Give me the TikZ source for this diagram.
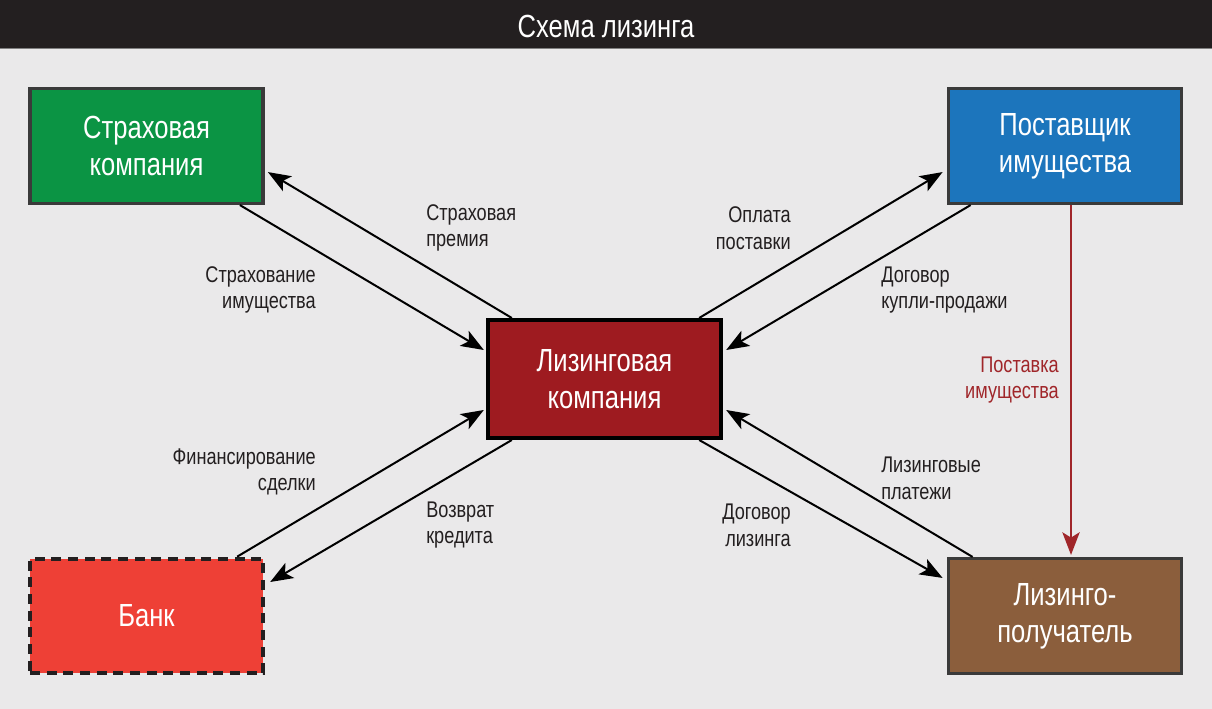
\documentclass[tikz,border=0pt]{standalone}
\usepackage{fontspec}
\setmainfont[FakeStretch=0.8]{Liberation Sans}
\usetikzlibrary{arrows.meta}
\definecolor{pagebg}{HTML}{EAE9EA}
\definecolor{titlebg}{HTML}{231F20}
\definecolor{boxline}{HTML}{3A3A3A}
\definecolor{insgreen}{HTML}{0B9444}
\definecolor{supblue}{HTML}{1C75BC}
\definecolor{lcred}{HTML}{9E1B20}
\definecolor{bankred}{HTML}{EE4036}
\definecolor{lesbrown}{HTML}{8B5E3C}
\definecolor{supplyred}{HTML}{A0262A}

\begin{document}
\begin{tikzpicture}[x=0.75pt,y=-0.75pt]
                        \tikzstyle{box}=[draw=boxline, line width=2.6pt, minimum width=175pt, minimum height=86pt,
                            text=white, align=center, inner sep=0pt, font=\fontsize{24}{28}\selectfont]
                        \tikzstyle{lbl}=[text=titlebg, inner sep=0pt, font=\fontsize{17}{20}\selectfont]
                        \tikzstyle{arr}=[draw=black, line width=1.5pt, -{Stealth[length=17pt, width=13pt, inset=4pt]}]
                        \useasboundingbox (0,0) rectangle (1212,709);
                        \fill[pagebg] (0,0) rectangle (1212,709);
                        \fill[titlebg] (0,0) rectangle (1212,48);
                        \draw[gray, line width=1.2pt] (0,48.5) -- (1212,48.5);
                        \node[text=white, font=\fontsize{24}{28}\selectfont] (title) at (606,26) {Схема лизинга};
                        \node[box, fill=insgreen] (ins) at (146.5,146) {Страховая\\компания};
                        \node[box, fill=supblue] (sup) at (1065,146) {Поставщик\\имущества};
                        \node[box, fill=lcred, draw=black, line width=3pt, minimum height=88.5pt] (lc) at (604.5,379) {Лизинговая\\компания};
                        \node[box, fill=bankred, draw=titlebg, line width=3pt, dash pattern=on 7.5pt off 5pt] (bank) at (146.5,616) {Банк};
                        \node[box, fill=lesbrown] (les) at (1065,616) {Лизинго-\\получатель};
                        \draw[arr] ([shift={(-25,0)}]ins.south east) -- ([shift={(-2,-29)}]lc.west);
                        \draw[arr] ([shift={(26,0)}]lc.north west) -- ([shift={(3,-33)}]ins.south east);
                        \draw[arr] ([shift={(-24,0)}]lc.north east) -- ([shift={(-4,-33)}]sup.south west);
                        \draw[arr] ([shift={(24,0)}]sup.south west) -- ([shift={(3,-29)}]lc.east);
                        \draw[arr, draw=supplyred, fill=supplyred, line width=1.4pt] ([shift={(6,0)}]sup.south) -- ([shift={(6,-2)}]les.north);
                        \draw[arr] ([shift={(26,0)}]les.north west) -- ([shift={(3,31)}]lc.east);
                        \draw[arr] ([shift={(-24,0)}]lc.south east) -- ([shift={(-4,21)}]les.north west);
                        \draw[arr] ([shift={(-28,0)}]bank.north east) -- ([shift={(-2,31)}]lc.west);
                        \draw[arr] ([shift={(26,0)}]lc.south west) -- ([shift={(5,-34)}]bank.east);
                        \node[lbl, anchor=east, align=right] (insprop) at (316,290) {Страхование\\имущества};
                        \node[lbl, anchor=west, align=left] (premium) at (426,228) {Страховая\\премия};
                        \node[lbl, anchor=east, align=right] (payment) at (791,228) {Оплата\\поставки};
                        \node[lbl, anchor=west, align=left] (contract) at (881,290) {Договор\\купли-продажи};
                        \node[lbl, anchor=east, align=right, text=supplyred] (supply) at (1059,380) {Поставка\\имущества};
                        \node[lbl, anchor=west, align=left] (leasepay) at (881,478) {Лизинговые\\платежи};
                        \node[lbl, anchor=east, align=right] (leasedeal) at (791,525) {Договор\\лизинга};
                        \node[lbl, anchor=east, align=right] (finance) at (316,472) {Финансирование\\сделки};
                        \node[lbl, anchor=west, align=left] (repay) at (426,525) {Возврат\\кредита};
\end{tikzpicture}
\end{document}
